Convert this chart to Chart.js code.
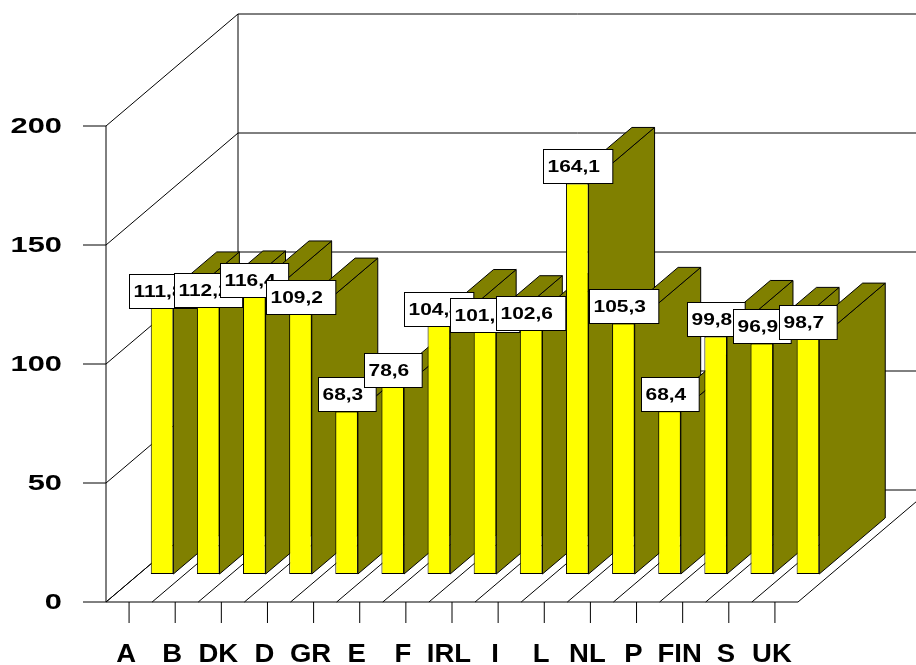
<!DOCTYPE html>
<html>
<head>
<meta charset="utf-8">
<script src="https://cdn.jsdelivr.net/npm/chart.js@4.4.1/dist/chart.umd.min.js"></script>
<style>
  html, body { margin: 0; padding: 0; background: #fff; }
  canvas { display: block; }
</style>
</head>
<body>
<canvas id="chart" width="916" height="665"></canvas>
<script>
const countries = ['A', 'B', 'DK', 'D', 'GR', 'E', 'F', 'IRL', 'I', 'L', 'NL', 'P', 'FIN', 'S', 'UK'];
const values = [111.8, 112.2, 116.4, 109.2, 68.3, 78.6, 104.4, 101.8, 102.6, 164.1, 105.3, 68.4, 99.8, 96.9, 98.7];
const yTicks = [0, 50, 100, 150, 200];

// depth of the whole box (floor front -> back wall), in screen px
const DEPTH_X = 132, DEPTH_Y = -112;
// bars sit a quarter of the way back and are half the box deep
const BAR_FRONT = 0.25, BAR_DEPTH = 0.5;

const FONT = '"Liberation Sans", Arial, sans-serif';

function line(ctx, x1, y1, x2, y2) {
  ctx.beginPath();
  ctx.moveTo(x1, y1);
  ctx.lineTo(x2, y2);
  ctx.stroke();
}

function stretchText(ctx, txt, x, y, size, sx, align) {
  ctx.save();
  ctx.font = 'bold ' + size + 'px ' + FONT;
  ctx.textAlign = align;
  ctx.textBaseline = 'middle';
  ctx.translate(x, y);
  ctx.scale(sx, 1);
  ctx.fillText(txt, 0, 0);
  ctx.restore();
}

const box3d = {
  id: 'box3d',
  beforeDatasetsDraw(chart) {
    const { ctx, chartArea: a } = chart;
    const xs = chart.scales.x, ys = chart.scales.y;
    const y0 = ys.getPixelForValue(0);
    const yTop = ys.getPixelForValue(yTicks[yTicks.length - 1]);
    const step = (a.right - a.left) / countries.length;

    ctx.save();
    ctx.strokeStyle = '#000';
    ctx.lineWidth = 1;

    // back wall + left wall + y ticks
    yTicks.forEach(v => {
      const y = ys.getPixelForValue(v);
      line(ctx, a.left + DEPTH_X, y + DEPTH_Y, a.right + DEPTH_X, y + DEPTH_Y);
      line(ctx, a.left, y, a.left + DEPTH_X, y + DEPTH_Y);
      line(ctx, a.left - 23, y, a.left, y);
    });
    line(ctx, a.left + DEPTH_X, yTop + DEPTH_Y, a.left + DEPTH_X, y0 + DEPTH_Y);
    line(ctx, a.left, yTop, a.left, y0);

    // floor
    line(ctx, a.left, y0, a.right, y0);
    for (let k = 0; k <= countries.length; k++) {
      const x = a.left + k * step;
      line(ctx, x, y0, x + DEPTH_X, y0 + DEPTH_Y);
    }
    // x ticks
    countries.forEach((c, i) => {
      const x = xs.getPixelForValue(i);
      line(ctx, x, y0, x, y0 + 21);
    });

    // axis labels
    ctx.fillStyle = '#000';
    yTicks.forEach(v => stretchText(ctx, String(v), 62, ys.getPixelForValue(v) + 1, 22, 1.4, 'right'));
    countries.forEach((c, i) => stretchText(ctx, c, xs.getPixelForValue(i) - 3, y0 + 53, 25, 1.1, 'center'));
    ctx.restore();

    // bars are drawn a bit back in the box
    ctx.save();
    ctx.translate(DEPTH_X * BAR_FRONT, DEPTH_Y * BAR_FRONT);
    const dx = DEPTH_X * BAR_DEPTH, dy = DEPTH_Y * BAR_DEPTH;
    ctx.fillStyle = '#808000';
    ctx.strokeStyle = '#000';
    ctx.lineWidth = 1;
    chart.getDatasetMeta(0).data.forEach(bar => {
      const { x, y, base, width } = bar.getProps(['x', 'y', 'base', 'width'], true);
      const l = x - width / 2, r = x + width / 2;
      ctx.beginPath();
      ctx.moveTo(r, y);
      ctx.lineTo(r + dx, y + dy);
      ctx.lineTo(r + dx, base + dy);
      ctx.lineTo(r, base);
      ctx.closePath();
      ctx.fill();
      ctx.stroke();
      ctx.beginPath();
      ctx.moveTo(l, y);
      ctx.lineTo(l + dx, y + dy);
      ctx.lineTo(r + dx, y + dy);
      ctx.lineTo(r, y);
      ctx.closePath();
      ctx.fill();
      ctx.stroke();
    });
  },
  afterDatasetsDraw(chart) {
    const { ctx } = chart;
    const sx = 1.23;
    chart.getDatasetMeta(0).data.forEach((bar, i) => {
      const { x, y } = bar.getProps(['x', 'y'], true);
      const txt = values[i].toFixed(1).replace('.', ',');
      ctx.font = 'bold 17px ' + FONT;
      const w = ctx.measureText(txt).width * sx + 17;
      const h = 34;
      const l = Math.round(x - w / 2) + 0.5, t = Math.round(y - h) + 0.5;
      ctx.fillStyle = '#fff';
      ctx.strokeStyle = '#000';
      ctx.lineWidth = 1;
      ctx.fillRect(l, t, w, h);
      ctx.strokeRect(l, t, w, h);
      ctx.fillStyle = '#000';
      stretchText(ctx, txt, l + 4, t + h / 2 + 1, 17, sx, 'left');
    });
    ctx.restore();
  }
};

new Chart(document.getElementById('chart'), {
  type: 'bar',
  data: {
    labels: countries,
    datasets: [{
      data: values,
      backgroundColor: '#ffff00',
      borderColor: '#000',
      borderWidth: 1,
      borderSkipped: false,
      barPercentage: 0.49,
      categoryPercentage: 1,
      clip: false,
    }]
  },
  options: {
    responsive: false,
    animation: false,
    events: [],
    layout: { padding: { left: 106, right: 118, top: 126, bottom: 63 } },
    plugins: { legend: { display: false }, tooltip: { enabled: false } },
    scales: {
      x: { display: false, offset: true },
      y: { display: false, min: 0, max: 200 },
    },
  },
  plugins: [box3d],
});
</script>
</body>
</html>
